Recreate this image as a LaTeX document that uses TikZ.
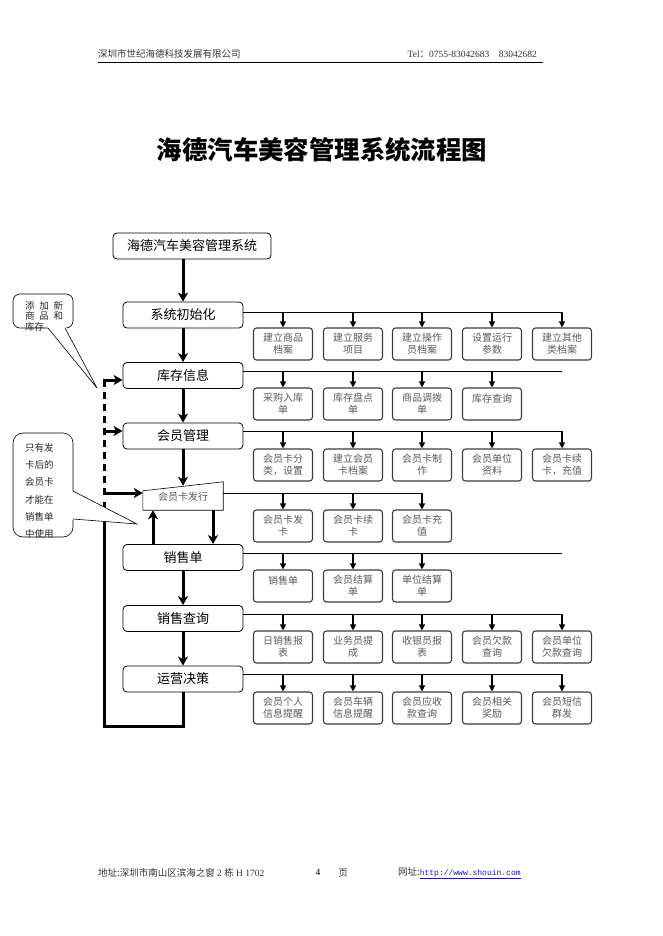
\documentclass[tikz,border=0pt]{standalone}
\usepackage{fontspec}
\setmainfont{Liberation Serif}
\setmonofont{Liberation Mono}
\newfontfamily\cjk{Noto Sans CJK SC}
\usetikzlibrary{arrows.meta}

\definecolor{subgray}{RGB}{90,90,90}
\definecolor{framegray}{RGB}{60,60,60}
\definecolor{linkblue}{RGB}{20,20,210}

\tikzset{
  mainbox/.style={draw, line width=0.8pt, rounded corners=4pt, minimum width=120pt,
    minimum height=26pt, inner sep=0pt, font=\cjk\fontsize{13}{15}\selectfont},
  subbox/.style={draw=framegray, line width=1.1pt, rounded corners=3pt, minimum width=59pt,
    minimum height=32pt, inner sep=0pt, text width=57pt, align=center, text=subgray,
    font=\cjk\fontsize{10}{12}\selectfont},
  issuebox/.style={minimum width=80pt, minimum height=26pt, inner sep=0pt, text=subgray,
    font=\cjk\fontsize{10}{12}\selectfont},
  notetext/.style={anchor=north west, inner sep=0pt, text width=45pt, align=left, text=black!85},
  bigarrow/.style={line width=3pt, -{Stealth[length=9pt,width=10pt,inset=2.5pt]}},
  subarrow/.style={line width=1.2pt, -{Triangle[length=6pt,width=6pt]}},
  bus/.style={line width=0.9pt},
  dashline/.style={line width=3pt, dash pattern=on 7pt off 5pt},
  callout/.style={draw, line width=0.6pt},
}

\begin{document}
\begin{tikzpicture}[x=1pt,y=-1pt]
\useasboundingbox (0,0) rectangle (662,936);

% Header
\node[anchor=west, inner sep=0pt, text=black!80, font=\cjk\fontsize{9.5}{11}\selectfont] (company) at (98,54) {深圳市世纪海德科技发展有限公司};
\node[anchor=east, inner sep=0pt, text=black!80, font=\fontsize{9.5}{11}\selectfont] (tel) at (537,54) {Tel{\cjk ：}0755-83042683{\cjk 　}83042682};
\draw[line width=0.8pt] (98,62) -- (543,62);

% Title
\node[font=\cjk\bfseries\fontsize{25.4}{30}\selectfont] (title) at (322,150) {海德汽车美容管理系统流程图};

% Main column
\node[mainbox, minimum width=158pt] (sys) at (192,246) {海德汽车美容管理系统};
\node[mainbox] (init) at (183,315) {系统初始化};
\node[mainbox] (stock) at (183,375.5) {库存信息};
\node[mainbox] (member) at (183,436) {会员管理};
\node[issuebox] (issue) at (183,497) {会员卡发行};
\draw[line width=0.6pt] ([yshift=-7pt]issue.north west) -- ([yshift=2pt]issue.north east) -- (issue.south east) -- (issue.south west) -- cycle;
\node[mainbox] (sale) at (183,557.5) {销售单};
\node[mainbox] (query) at (183,618.5) {销售查询};
\node[mainbox] (decide) at (183,679) {运营决策};

\draw[bigarrow] (sys.south -| init.north) -- (init.north);
\draw[bigarrow] (init) -- (stock);
\draw[bigarrow] (stock) -- (member);
\draw[bigarrow] (member.south) -- ([yshift=-2pt]issue.north);
\draw[bigarrow] (issue.south -| 213,0) -- (sale.north -| 213,0);
\draw[bigarrow] (sale.north -| 153,0) -- (issue.south -| 153,0);
\draw[bigarrow] (sale) -- (query);
\draw[bigarrow] (query) -- (decide);

% Feedback loop
\coordinate (loopbl) at (104,726);
\coordinate (looptop) at (104,502);
\draw[line width=3pt] (decide.south) -- (decide.south |- loopbl) -- (loopbl) -- (looptop);
\coordinate (dstock) at (104,380);
\coordinate (dmember) at (104,431);
\coordinate (dissue) at (104,493);
\draw[dashline] (dstock) -- (dissue);
\draw[bigarrow] ([xshift=-1.5pt]dstock) -- (stock.west |- dstock);
\draw[bigarrow] ([xshift=-1.5pt]dmember) -- (member.west |- dmember);
\draw[bigarrow] ([xshift=-1.5pt]dissue) -- (issue.west |- dissue);

% 系统初始化
\coordinate (initend) at (562,312);
\draw[bus] (init.east |- initend) -- (initend);
\foreach \x/\lbl [count=\i] in {283/{建立商品\\档案}, 353/{建立服务\\项目}, 422/{建立操作\\员档案}, 492/{设置运行\\参数}, 562/{建立其他\\类档案}} {
  \node[subbox] (init\i) at (\x,344) {\lbl};
  \draw[subarrow] (init\i |- initend) -- (init\i);
}

% 库存信息
\coordinate (stockend) at (562,371);
\draw[bus] (stock.east |- stockend) -- (stockend);
\foreach \x/\lbl [count=\i] in {283/{采购入库\\单}, 353/{库存盘点\\单}, 422/{商品调拨\\单}, 492/{库存查询\\\mbox{}}} {
  \node[subbox] (stock\i) at (\x,404) {\lbl};
  \draw[subarrow] (stock\i |- stockend) -- (stock\i);
}

% 会员管理
\coordinate (memberend) at (562,431);
\draw[bus] (member.east |- memberend) -- (memberend);
\foreach \x/\lbl [count=\i] in {283/{会员卡分\\类，设置}, 353/{建立会员\\卡档案}, 422/{会员卡制\\作}, 492/{会员单位\\资料}, 562/{会员卡续\\卡，充值}} {
  \node[subbox] (member\i) at (\x,465) {\lbl};
  \draw[subarrow] (member\i |- memberend) -- (member\i);
}

% 会员卡发行
\coordinate (issueend) at (422,493);
\draw[bus] (issue.east |- issueend) -- (issueend);
\foreach \x/\lbl [count=\i] in {283/{会员卡发\\卡}, 353/{会员卡续\\卡}, 422/{会员卡充\\值}} {
  \node[subbox] (issue\i) at (\x,526) {\lbl};
  \draw[subarrow] (issue\i |- issueend) -- (issue\i);
}

% 销售单
\coordinate (saleend) at (562,553);
\draw[bus] (sale.east |- saleend) -- (saleend);
\foreach \x/\lbl [count=\i] in {283/{销售单\\\mbox{}}, 353/{会员结算\\单}, 422/{单位结算\\单}} {
  \node[subbox] (sale\i) at (\x,586) {\lbl};
  \draw[subarrow] (sale\i |- saleend) -- (sale\i);
}

% 销售查询
\coordinate (queryend) at (562,614);
\draw[bus] (query.east |- queryend) -- (queryend);
\foreach \x/\lbl [count=\i] in {283/{日销售报\\表}, 353/{业务员提\\成}, 422/{收银员报\\表}, 492/{会员欠款\\查询}, 562/{会员单位\\欠款查询}} {
  \node[subbox] (query\i) at (\x,647) {\lbl};
  \draw[subarrow] (query\i |- queryend) -- (query\i);
}

% 运营决策
\coordinate (decideend) at (562,674);
\draw[bus] (decide.east |- decideend) -- (decideend);
\foreach \x/\lbl [count=\i] in {283/{会员个人\\信息提醒}, 353/{会员车辆\\信息提醒}, 422/{会员应收\\款查询}, 492/{会员相关\\奖励}, 562/{会员短信\\群发}} {
  \node[subbox] (decide\i) at (\x,708) {\lbl};
  \draw[subarrow] (decide\i |- decideend) -- (decide\i);
}

% Notes
\draw[callout, rounded corners=7pt] (13,294) rectangle (73,328);
\fill[white] (47.5,327) -- (97,388) -- (65.5,327) -- cycle;
\draw[callout] (48,328) -- (97,388) -- (65,328);
\node[notetext, font=\cjk\fontsize{9.5}{10.5}\selectfont] (note1) at (25,301) {添\enspace 加\enspace 新\\商\enspace 品\enspace 和\\库存};

\draw[callout, rounded corners=10pt] (13,433) rectangle (73,537);
\fill[white] (72,490.5) -- (137,524) -- (72,519.5) -- cycle;
\draw[callout] (73,491) -- (137,524) -- (73,519);
\node[notetext, font=\cjk\fontsize{9.5}{17.3}\selectfont] (note2) at (25,443) {只有发\\卡后的\\会员卡\\才能在\\销售单\\中使用};

% Footer
\node[anchor=west, inner sep=0pt, text=black!80, font=\fontsize{9.5}{11}\selectfont] (addr) at (98,873) {{\cjk 地址:深圳市南山区滨海之窗} 2 {\cjk 栋} H 1702};
\node[inner sep=0pt, font=\fontsize{9.5}{11}\selectfont] (pagenum) at (318,872) {4};
\node[inner sep=0pt, text=black!80, font=\cjk\fontsize{9.5}{11}\selectfont] (pageword) at (343,873) {页};
\node[anchor=west, inner sep=0pt, text=black!80, font=\fontsize{9.5}{11}\selectfont] (web) at (398,873) {{\cjk 网址:}\textcolor{linkblue}{\underline{\ttfamily\fontsize{8}{10}\selectfont http://www.shouin.com}}};

\end{tikzpicture}
\end{document}
